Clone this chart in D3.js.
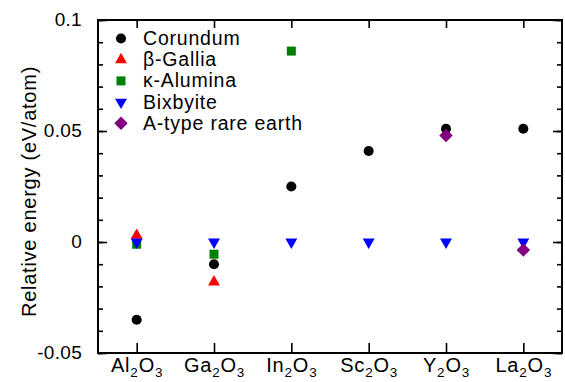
<!DOCTYPE html>
<html>
<head>
<meta charset="UTF-8">
<script src="https://d3js.org/d3.v7.min.js"></script>
<style>
  body { margin: 0; background: #fff; }
  text { font-family: "Liberation Sans", Arial, sans-serif; fill: #000; }
</style>
</head>
<body>
<svg></svg>
<script>
// categories and values
const categories = ["Al2O3", "Ga2O3", "In2O3", "Sc2O3", "Y2O3", "La2O3"];
const corundum     = [-0.035, -0.010, 0.025, 0.041, 0.051, 0.051];
const betaGallia   = [0.003, -0.018, null, null, null, null];
const kappaAlumina = [-0.001, -0.0055, 0.086, null, null, null];
const bixbyite     = [0, 0, 0, 0, 0, 0];
const aTypeRare    = [null, null, null, null, 0.048, -0.0036];
const seriesNames  = ["Corundum", "\u03B2-Gallia", "\u03BA-Alumina", "Bixbyite", "A-type rare earth"];
const yMajorTicks  = [-0.05, 0, 0.05, 0.1];
const yMinorTicks  = d3.range(-5, 11).map(i => i / 100);

let width = 565, height = 382;
let margin = {top: 20, right: 3, bottom: 29, left: 98};
let svg = d3.select("svg").attr("width", width).attr("height", height);

let x = d3.scalePoint().domain(categories)
    .range([margin.left, width - margin.right]).padding(0.5);
let y = d3.scaleLinear().domain([-0.05, 0.1])
    .range([height - margin.bottom, margin.top]);

// marker styles for each series
let styles = [
  {type: d3.symbolCircle, size: 80, color: "#000000", rot: 0},
  {type: d3.symbolTriangle, size: 62, color: "#ff0000", rot: 0},
  {type: d3.symbolSquare, size: 81, color: "#008000", rot: 0},
  {type: d3.symbolTriangle, size: 62, color: "#0000ff", rot: 180},
  {type: d3.symbolSquare, size: 90, color: "#800080", rot: 45}
];
let allSeries = [corundum, betaGallia, kappaAlumina, bixbyite, aTypeRare];

// axes, ticks pointing inward
let fmt = d => d === 0 ? "0" : String(d);
svg.append("g").attr("class", "minor")
  .attr("transform", `translate(${margin.left},0)`)
  .call(d3.axisLeft(y).tickValues(yMinorTicks).tickSize(-5).tickFormat(""));
svg.append("g").attr("class", "minor")
  .attr("transform", `translate(${width - margin.right},0)`)
  .call(d3.axisRight(y).tickValues(yMinorTicks).tickSize(-5).tickFormat(""));
svg.append("g").attr("class", "yleft")
  .attr("transform", `translate(${margin.left},0)`)
  .call(d3.axisLeft(y).tickValues(yMajorTicks).tickSize(-9).tickPadding(16).tickFormat(fmt));
svg.append("g")
  .attr("transform", `translate(${width - margin.right},0)`)
  .call(d3.axisRight(y).tickValues(yMajorTicks).tickSize(-9).tickFormat(""));
svg.append("g")
  .attr("transform", `translate(0,${margin.top})`)
  .call(d3.axisTop(x).tickSize(-8).tickFormat(""));
svg.append("g").attr("class", "xbottom")
  .attr("transform", `translate(0,${height - margin.bottom})`)
  .call(d3.axisBottom(x).tickSize(-10).tickPadding(18).tickFormat(""));

svg.selectAll(".domain").remove();
svg.selectAll(".tick line").attr("stroke", "#000").attr("stroke-width", 1.6);
svg.selectAll(".yleft .tick text")
  .style("font-size", "19px").style("letter-spacing", "0.3px").attr("dy", "0.3em");

// x labels with subscripts
svg.select(".xbottom").selectAll(".tick").each(function(d) {
  let t = d3.select(this).append("text")
    .attr("y", 24).attr("text-anchor", "middle")
    .style("font-size", "20px").style("letter-spacing", "0.8px");
  d.match(/[A-Za-z]+|\d+/g).forEach(part => {
    if (/\d/.test(part)) {
      t.append("tspan").text(part).style("font-size", "13.5px").attr("dy", "5");
    } else {
      t.append("tspan").text(part).attr("dy", t.selectAll("tspan").size() ? "-5" : "0");
    }
  });
});

// frame
svg.append("rect")
  .attr("x", margin.left).attr("y", margin.top)
  .attr("width", width - margin.right - margin.left)
  .attr("height", height - margin.bottom - margin.top)
  .attr("fill", "none").attr("stroke", "#000").attr("stroke-width", 2);

// axis title
svg.append("text")
  .attr("transform", `translate(35.5,${(margin.top + height - margin.bottom) / 2 + 5}) rotate(-90)`)
  .attr("text-anchor", "middle")
  .style("font-size", "20px").style("letter-spacing", "0.75px")
  .text("Relative energy (eV/atom)");

// points
allSeries.forEach((vals, i) => {
  let s = styles[i];
  let pts = categories.map((c, j) => ({c: c, v: vals[j]})).filter(p => p.v !== null);
  svg.append("g").selectAll("path").data(pts).enter().append("path")
    .attr("d", d3.symbol().type(s.type).size(s.size))
    .attr("transform", p => `translate(${x(p.c)},${y(p.v)}) rotate(${s.rot})`)
    .attr("fill", s.color);
});

// legend
seriesNames.forEach((name, i) => {
  let s = styles[i];
  let ly = 38.5 + i * 21.2;
  svg.append("path")
    .attr("d", d3.symbol().type(s.type).size(s.size))
    .attr("transform", `translate(121,${ly}) rotate(${s.rot})`)
    .attr("fill", s.color);
  svg.append("text").attr("x", 143).attr("y", ly + 6.5)
    .style("font-size", "19.5px").style("letter-spacing", "0.8px").text(name);
});
</script>
</body>
</html>
